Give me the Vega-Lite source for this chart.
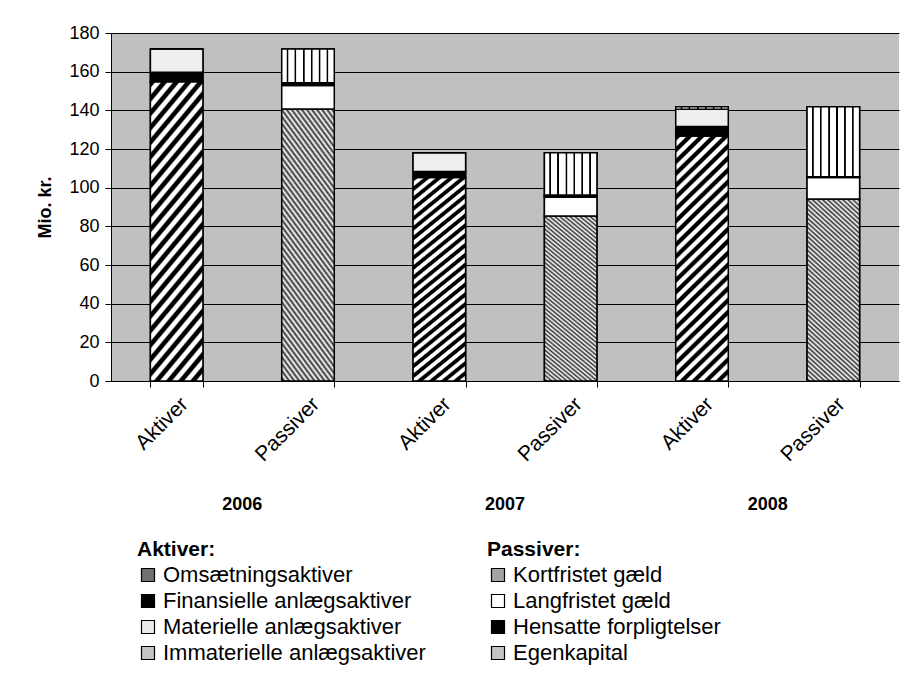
{
  "$schema": "https://vega.github.io/schema/vega-lite/v6.json",
  "background": "white",
  "padding": {"left": 36, "top": 24, "right": 11, "bottom": 5},
  "autosize": {"type": "pad"},
  "width": 788,
  "height": 348,
  "config": {
    "font": "Liberation Sans",
    "view": {"fill": "#c0c0c0", "stroke": null}
  },
  "data": {"values": [
    {"year": "2006", "side": "Aktiver", "bar": "2006 Aktiver", "series": "Omsætningsaktiver", "k": 1, "value": 154.8},
    {"year": "2006", "side": "Aktiver", "bar": "2006 Aktiver", "series": "Finansielle anlægsaktiver", "k": 2, "value": 4.9},
    {"year": "2006", "side": "Aktiver", "bar": "2006 Aktiver", "series": "Materielle anlægsaktiver", "k": 3, "value": 12.0},
    {"year": "2006", "side": "Aktiver", "bar": "2006 Aktiver", "series": "Immaterielle anlægsaktiver", "k": 4, "value": 0},
    {"year": "2006", "side": "Passiver", "bar": "2006 Passiver", "series": "Kortfristet gæld", "k": 1, "value": 140.7},
    {"year": "2006", "side": "Passiver", "bar": "2006 Passiver", "series": "Langfristet gæld", "k": 2, "value": 12.1},
    {"year": "2006", "side": "Passiver", "bar": "2006 Passiver", "series": "Hensatte forpligtelser", "k": 3, "value": 1.5},
    {"year": "2006", "side": "Passiver", "bar": "2006 Passiver", "series": "Egenkapital", "k": 4, "value": 17.4},
    {"year": "2007", "side": "Aktiver", "bar": "2007 Aktiver", "series": "Omsætningsaktiver", "k": 1, "value": 105.2},
    {"year": "2007", "side": "Aktiver", "bar": "2007 Aktiver", "series": "Finansielle anlægsaktiver", "k": 2, "value": 3.1},
    {"year": "2007", "side": "Aktiver", "bar": "2007 Aktiver", "series": "Materielle anlægsaktiver", "k": 3, "value": 9.8},
    {"year": "2007", "side": "Aktiver", "bar": "2007 Aktiver", "series": "Immaterielle anlægsaktiver", "k": 4, "value": 0},
    {"year": "2007", "side": "Passiver", "bar": "2007 Passiver", "series": "Kortfristet gæld", "k": 1, "value": 85.4},
    {"year": "2007", "side": "Passiver", "bar": "2007 Passiver", "series": "Langfristet gæld", "k": 2, "value": 9.6},
    {"year": "2007", "side": "Passiver", "bar": "2007 Passiver", "series": "Hensatte forpligtelser", "k": 3, "value": 1.2},
    {"year": "2007", "side": "Passiver", "bar": "2007 Passiver", "series": "Egenkapital", "k": 4, "value": 21.9},
    {"year": "2008", "side": "Aktiver", "bar": "2008 Aktiver", "series": "Omsætningsaktiver", "k": 1, "value": 126.7},
    {"year": "2008", "side": "Aktiver", "bar": "2008 Aktiver", "series": "Finansielle anlægsaktiver", "k": 2, "value": 4.9},
    {"year": "2008", "side": "Aktiver", "bar": "2008 Aktiver", "series": "Materielle anlægsaktiver", "k": 3, "value": 9.0},
    {"year": "2008", "side": "Aktiver", "bar": "2008 Aktiver", "series": "Immaterielle anlægsaktiver", "k": 4, "value": 1.3},
    {"year": "2008", "side": "Passiver", "bar": "2008 Passiver", "series": "Kortfristet gæld", "k": 1, "value": 94.2},
    {"year": "2008", "side": "Passiver", "bar": "2008 Passiver", "series": "Langfristet gæld", "k": 2, "value": 11.0},
    {"year": "2008", "side": "Passiver", "bar": "2008 Passiver", "series": "Hensatte forpligtelser", "k": 3, "value": 0.5},
    {"year": "2008", "side": "Passiver", "bar": "2008 Passiver", "series": "Egenkapital", "k": 4, "value": 36.2}
  ]},
  "layer": [
    {
      "encoding": {
        "x": {
          "field": "bar", "type": "nominal",
          "scale": {"domain": ["2006 Aktiver", "2006 Passiver", "2007 Aktiver", "2007 Passiver", "2008 Aktiver", "2008 Passiver"], "paddingInner": 0.6, "paddingOuter": 0.3},
          "axis": {"title": null, "orient": "bottom", "labelExpr": "split(datum.label, ' ')[1]", "labelAngle": -45, "labelFontSize": 21, "labelColor": "black", "domainColor": "black", "tickColor": "black", "tickBand": "extent", "tickSize": 6, "labelPadding": 6, "grid": false}
        },
        "y": {
          "field": "value", "type": "quantitative", "stack": "zero",
          "scale": {"domain": [0, 180], "nice": false},
          "axis": {"title": "Mio. kr.", "titleFontSize": 18, "titleFontWeight": "bold", "titleColor": "black", "labelFontSize": 18, "labelColor": "black", "values": [0, 20, 40, 60, 80, 100, 120, 140, 160, 180], "grid": true, "gridColor": "black", "gridWidth": 1, "gridOpacity": 1, "domainColor": "black", "tickColor": "black", "tickSize": 6, "labelPadding": 6, "titlePadding": 14}
        },
        "order": {"field": "k", "type": "quantitative", "sort": "ascending"}
      },
      "layer": [
        {
          "transform": [{"filter": "datum.side === 'Aktiver'"}],
          "mark": {"type": "bar", "stroke": "black", "strokeWidth": 1.5},
          "encoding": {
            "color": {
              "field": "series", "type": "nominal",
              "sort": ["Omsætningsaktiver", "Finansielle anlægsaktiver", "Materielle anlægsaktiver", "Immaterielle anlægsaktiver"],
              "scale": {
                "domain": ["Omsætningsaktiver", "Finansielle anlægsaktiver", "Materielle anlægsaktiver", "Immaterielle anlægsaktiver"],
                "range": ["#707070", "#000000", "#ebebeb", "#c4c4c4"]
              },
              "legend": {
                "title": "Aktiver:", "orient": "none", "legendX": 26, "legendY": 506, "titleFontSize": 21, "titleFontWeight": "bold", "titleColor": "black", "labelFontSize": 22, "labelColor": "black", "labelLimit": 400, "symbolType": "square", "symbolSize": 169, "symbolStrokeColor": "black", "symbolStrokeWidth": 1.2, "symbolOpacity": 1, "rowPadding": 4, "titlePadding": 4, "labelOffset": 4
              }
            }
          }
        },
        {
          "transform": [{"filter": "datum.side === 'Aktiver'"}],
          "mark": {"type": "bar", "stroke": "black", "strokeWidth": 1.5},
          "encoding": {
            "detail": {"field": "series", "type": "nominal"},
            "fill": {
              "condition": [
                {"test": "datum.series === 'Omsætningsaktiver'", "value": {"gradient": "linear", "x1": 0, "y1": 0, "x2": 0.2434, "y2": 1.159, "stops": [
                    {"offset": 0, "color": "#000"}, {"offset": 0.014, "color": "#000"}, {"offset": 0.02, "color": "#fff"}, {"offset": 0.034, "color": "#fff"},
                    {"offset": 0.04, "color": "#000"}, {"offset": 0.054, "color": "#000"}, {"offset": 0.06, "color": "#fff"}, {"offset": 0.074, "color": "#fff"},
                    {"offset": 0.08, "color": "#000"}, {"offset": 0.094, "color": "#000"}, {"offset": 0.1, "color": "#fff"}, {"offset": 0.114, "color": "#fff"},
                    {"offset": 0.12, "color": "#000"}, {"offset": 0.134, "color": "#000"}, {"offset": 0.14, "color": "#fff"}, {"offset": 0.154, "color": "#fff"},
                    {"offset": 0.16, "color": "#000"}, {"offset": 0.174, "color": "#000"}, {"offset": 0.18, "color": "#fff"}, {"offset": 0.194, "color": "#fff"},
                    {"offset": 0.2, "color": "#000"}, {"offset": 0.214, "color": "#000"}, {"offset": 0.22, "color": "#fff"}, {"offset": 0.234, "color": "#fff"},
                    {"offset": 0.24, "color": "#000"}, {"offset": 0.254, "color": "#000"}, {"offset": 0.26, "color": "#fff"}, {"offset": 0.274, "color": "#fff"},
                    {"offset": 0.28, "color": "#000"}, {"offset": 0.294, "color": "#000"}, {"offset": 0.3, "color": "#fff"}, {"offset": 0.314, "color": "#fff"},
                    {"offset": 0.32, "color": "#000"}, {"offset": 0.334, "color": "#000"}, {"offset": 0.34, "color": "#fff"}, {"offset": 0.354, "color": "#fff"},
                    {"offset": 0.36, "color": "#000"}, {"offset": 0.374, "color": "#000"}, {"offset": 0.38, "color": "#fff"}, {"offset": 0.394, "color": "#fff"},
                    {"offset": 0.4, "color": "#000"}, {"offset": 0.414, "color": "#000"}, {"offset": 0.42, "color": "#fff"}, {"offset": 0.434, "color": "#fff"},
                    {"offset": 0.44, "color": "#000"}, {"offset": 0.454, "color": "#000"}, {"offset": 0.46, "color": "#fff"}, {"offset": 0.474, "color": "#fff"},
                    {"offset": 0.48, "color": "#000"}, {"offset": 0.494, "color": "#000"}, {"offset": 0.5, "color": "#fff"}, {"offset": 0.514, "color": "#fff"},
                    {"offset": 0.52, "color": "#000"}, {"offset": 0.534, "color": "#000"}, {"offset": 0.54, "color": "#fff"}, {"offset": 0.554, "color": "#fff"},
                    {"offset": 0.56, "color": "#000"}, {"offset": 0.574, "color": "#000"}, {"offset": 0.58, "color": "#fff"}, {"offset": 0.594, "color": "#fff"},
                    {"offset": 0.6, "color": "#000"}, {"offset": 0.614, "color": "#000"}, {"offset": 0.62, "color": "#fff"}, {"offset": 0.634, "color": "#fff"},
                    {"offset": 0.64, "color": "#000"}, {"offset": 0.654, "color": "#000"}, {"offset": 0.66, "color": "#fff"}, {"offset": 0.674, "color": "#fff"},
                    {"offset": 0.68, "color": "#000"}, {"offset": 0.694, "color": "#000"}, {"offset": 0.7, "color": "#fff"}, {"offset": 0.714, "color": "#fff"},
                    {"offset": 0.72, "color": "#000"}, {"offset": 0.734, "color": "#000"}, {"offset": 0.74, "color": "#fff"}, {"offset": 0.754, "color": "#fff"},
                    {"offset": 0.76, "color": "#000"}, {"offset": 0.774, "color": "#000"}, {"offset": 0.78, "color": "#fff"}, {"offset": 0.794, "color": "#fff"},
                    {"offset": 0.8, "color": "#000"}, {"offset": 0.814, "color": "#000"}, {"offset": 0.82, "color": "#fff"}, {"offset": 0.834, "color": "#fff"},
                    {"offset": 0.84, "color": "#000"}, {"offset": 0.854, "color": "#000"}, {"offset": 0.86, "color": "#fff"}, {"offset": 0.874, "color": "#fff"},
                    {"offset": 0.88, "color": "#000"}, {"offset": 0.894, "color": "#000"}, {"offset": 0.9, "color": "#fff"}, {"offset": 0.914, "color": "#fff"},
                    {"offset": 0.92, "color": "#000"}, {"offset": 0.934, "color": "#000"}, {"offset": 0.94, "color": "#fff"}, {"offset": 0.954, "color": "#fff"},
                    {"offset": 0.96, "color": "#000"}, {"offset": 0.974, "color": "#000"}, {"offset": 0.98, "color": "#fff"}, {"offset": 1, "color": "#fff"}
                  ]}},
                {"test": "datum.series === 'Finansielle anlægsaktiver'", "value": "#000000"},
                {"test": "datum.series === 'Immaterielle anlægsaktiver'", "value": {"gradient": "linear", "x1": 0, "y1": 0, "x2": 1, "y2": 0, "stops": [
                    {"offset": 0, "color": "#fff"},
                    {"offset": 0.088, "color": "#fff"}, {"offset": 0.1, "color": "#000"}, {"offset": 0.12, "color": "#000"}, {"offset": 0.132, "color": "#fff"},
                    {"offset": 0.238, "color": "#fff"}, {"offset": 0.25, "color": "#000"}, {"offset": 0.27, "color": "#000"}, {"offset": 0.282, "color": "#fff"},
                    {"offset": 0.398, "color": "#fff"}, {"offset": 0.41, "color": "#000"}, {"offset": 0.43, "color": "#000"}, {"offset": 0.442, "color": "#fff"},
                    {"offset": 0.548, "color": "#fff"}, {"offset": 0.56, "color": "#000"}, {"offset": 0.58, "color": "#000"}, {"offset": 0.592, "color": "#fff"},
                    {"offset": 0.698, "color": "#fff"}, {"offset": 0.71, "color": "#000"}, {"offset": 0.73, "color": "#000"}, {"offset": 0.742, "color": "#fff"},
                    {"offset": 0.848, "color": "#fff"}, {"offset": 0.86, "color": "#000"}, {"offset": 0.88, "color": "#000"}, {"offset": 0.892, "color": "#fff"},
                    {"offset": 1, "color": "#fff"}
                  ]}}
              ],
              "value": "#eeeeee"
            }
          }
        },
        {
          "transform": [{"filter": "datum.side === 'Passiver'"}],
          "mark": {"type": "bar", "stroke": "black", "strokeWidth": 1.5},
          "encoding": {
            "color": {
              "field": "series", "type": "nominal",
              "sort": ["Kortfristet gæld", "Langfristet gæld", "Hensatte forpligtelser", "Egenkapital"],
              "scale": {
                "domain": ["Kortfristet gæld", "Langfristet gæld", "Hensatte forpligtelser", "Egenkapital"],
                "range": ["#a4a4a4", "#ffffff", "#000000", "#c4c4c4"]
              },
              "legend": {
                "title": "Passiver:", "orient": "none", "legendX": 376, "legendY": 506, "titleFontSize": 21, "titleFontWeight": "bold", "titleColor": "black", "labelFontSize": 22, "labelColor": "black", "labelLimit": 400, "symbolType": "square", "symbolSize": 169, "symbolStrokeColor": "black", "symbolStrokeWidth": 1.2, "symbolOpacity": 1, "rowPadding": 4, "titlePadding": 4, "labelOffset": 4
              }
            }
          }
        },
        {
          "transform": [{"filter": "datum.side === 'Passiver'"}],
          "mark": {"type": "bar", "stroke": "black", "strokeWidth": 1.5},
          "encoding": {
            "detail": {"field": "series", "type": "nominal"},
            "fill": {
              "condition": [
                {"test": "datum.series === 'Kortfristet gæld'", "value": {"gradient": "linear", "x1": 0, "y1": 1, "x2": 0.31, "y2": -0.181, "stops": [
                    {"offset": 0, "color": "#fff"}, {"offset": 0.01, "color": "#333"}, {"offset": 0.02, "color": "#fff"}, {"offset": 0.03, "color": "#333"}, {"offset": 0.04, "color": "#fff"},
                    {"offset": 0.05, "color": "#333"}, {"offset": 0.06, "color": "#fff"}, {"offset": 0.07, "color": "#333"}, {"offset": 0.08, "color": "#fff"}, {"offset": 0.09, "color": "#333"},
                    {"offset": 0.1, "color": "#fff"}, {"offset": 0.11, "color": "#333"}, {"offset": 0.12, "color": "#fff"}, {"offset": 0.13, "color": "#333"}, {"offset": 0.14, "color": "#fff"},
                    {"offset": 0.15, "color": "#333"}, {"offset": 0.16, "color": "#fff"}, {"offset": 0.17, "color": "#333"}, {"offset": 0.18, "color": "#fff"}, {"offset": 0.19, "color": "#333"},
                    {"offset": 0.2, "color": "#fff"}, {"offset": 0.21, "color": "#333"}, {"offset": 0.22, "color": "#fff"}, {"offset": 0.23, "color": "#333"}, {"offset": 0.24, "color": "#fff"},
                    {"offset": 0.25, "color": "#333"}, {"offset": 0.26, "color": "#fff"}, {"offset": 0.27, "color": "#333"}, {"offset": 0.28, "color": "#fff"}, {"offset": 0.29, "color": "#333"},
                    {"offset": 0.3, "color": "#fff"}, {"offset": 0.31, "color": "#333"}, {"offset": 0.32, "color": "#fff"}, {"offset": 0.33, "color": "#333"}, {"offset": 0.34, "color": "#fff"},
                    {"offset": 0.35, "color": "#333"}, {"offset": 0.36, "color": "#fff"}, {"offset": 0.37, "color": "#333"}, {"offset": 0.38, "color": "#fff"}, {"offset": 0.39, "color": "#333"},
                    {"offset": 0.4, "color": "#fff"}, {"offset": 0.41, "color": "#333"}, {"offset": 0.42, "color": "#fff"}, {"offset": 0.43, "color": "#333"}, {"offset": 0.44, "color": "#fff"},
                    {"offset": 0.45, "color": "#333"}, {"offset": 0.46, "color": "#fff"}, {"offset": 0.47, "color": "#333"}, {"offset": 0.48, "color": "#fff"}, {"offset": 0.49, "color": "#333"},
                    {"offset": 0.5, "color": "#fff"}, {"offset": 0.51, "color": "#333"}, {"offset": 0.52, "color": "#fff"}, {"offset": 0.53, "color": "#333"}, {"offset": 0.54, "color": "#fff"},
                    {"offset": 0.55, "color": "#333"}, {"offset": 0.56, "color": "#fff"}, {"offset": 0.57, "color": "#333"}, {"offset": 0.58, "color": "#fff"}, {"offset": 0.59, "color": "#333"},
                    {"offset": 0.6, "color": "#fff"}, {"offset": 0.61, "color": "#333"}, {"offset": 0.62, "color": "#fff"}, {"offset": 0.63, "color": "#333"}, {"offset": 0.64, "color": "#fff"},
                    {"offset": 0.65, "color": "#333"}, {"offset": 0.66, "color": "#fff"}, {"offset": 0.67, "color": "#333"}, {"offset": 0.68, "color": "#fff"}, {"offset": 0.69, "color": "#333"},
                    {"offset": 0.7, "color": "#fff"}, {"offset": 0.71, "color": "#333"}, {"offset": 0.72, "color": "#fff"}, {"offset": 0.73, "color": "#333"}, {"offset": 0.74, "color": "#fff"},
                    {"offset": 0.75, "color": "#333"}, {"offset": 0.76, "color": "#fff"}, {"offset": 0.77, "color": "#333"}, {"offset": 0.78, "color": "#fff"}, {"offset": 0.79, "color": "#333"},
                    {"offset": 0.8, "color": "#fff"}, {"offset": 0.81, "color": "#333"}, {"offset": 0.82, "color": "#fff"}, {"offset": 0.83, "color": "#333"}, {"offset": 0.84, "color": "#fff"},
                    {"offset": 0.85, "color": "#333"}, {"offset": 0.86, "color": "#fff"}, {"offset": 0.87, "color": "#333"}, {"offset": 0.88, "color": "#fff"}, {"offset": 0.89, "color": "#333"},
                    {"offset": 0.9, "color": "#fff"}, {"offset": 0.91, "color": "#333"}, {"offset": 0.92, "color": "#fff"}, {"offset": 0.93, "color": "#333"}, {"offset": 0.94, "color": "#fff"},
                    {"offset": 0.95, "color": "#333"}, {"offset": 0.96, "color": "#fff"}, {"offset": 0.97, "color": "#333"}, {"offset": 0.98, "color": "#fff"}, {"offset": 0.99, "color": "#333"},
                    {"offset": 1, "color": "#fff"}
                  ]}},
                {"test": "datum.series === 'Hensatte forpligtelser'", "value": "#000000"},
                {"test": "datum.series === 'Egenkapital'", "value": {"gradient": "linear", "x1": 0, "y1": 0, "x2": 1, "y2": 0, "stops": [
                    {"offset": 0, "color": "#fff"},
                    {"offset": 0.088, "color": "#fff"}, {"offset": 0.1, "color": "#000"}, {"offset": 0.12, "color": "#000"}, {"offset": 0.132, "color": "#fff"},
                    {"offset": 0.238, "color": "#fff"}, {"offset": 0.25, "color": "#000"}, {"offset": 0.27, "color": "#000"}, {"offset": 0.282, "color": "#fff"},
                    {"offset": 0.398, "color": "#fff"}, {"offset": 0.41, "color": "#000"}, {"offset": 0.43, "color": "#000"}, {"offset": 0.442, "color": "#fff"},
                    {"offset": 0.548, "color": "#fff"}, {"offset": 0.56, "color": "#000"}, {"offset": 0.58, "color": "#000"}, {"offset": 0.592, "color": "#fff"},
                    {"offset": 0.698, "color": "#fff"}, {"offset": 0.71, "color": "#000"}, {"offset": 0.73, "color": "#000"}, {"offset": 0.742, "color": "#fff"},
                    {"offset": 0.848, "color": "#fff"}, {"offset": 0.86, "color": "#000"}, {"offset": 0.88, "color": "#000"}, {"offset": 0.892, "color": "#fff"},
                    {"offset": 1, "color": "#fff"}
                  ]}}
              ],
              "value": "#ffffff"
            }
          }
        }
      ],
      "resolve": {"scale": {"color": "independent"}}
    },
    {
      "mark": {"type": "rule", "strokeOpacity": 0},
      "encoding": {
        "x": {
          "field": "year", "type": "ordinal",
          "scale": {"domain": ["2006", "2007", "2008"], "paddingInner": 0, "paddingOuter": 0},
          "axis": {"title": null, "orient": "bottom", "domain": false, "ticks": false, "grid": false, "labelAngle": 0, "labelFontSize": 18, "labelFontWeight": "bold", "labelColor": "black", "labelPadding": 114}
        }
      }
    }
  ],
  "resolve": {"scale": {"x": "independent", "color": "independent"}, "axis": {"x": "independent"}}
}
